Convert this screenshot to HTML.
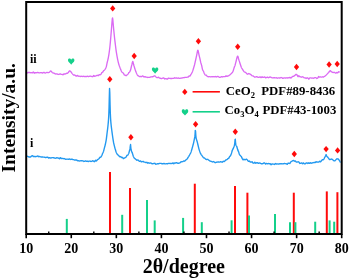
<!DOCTYPE html>
<html><head><meta charset="utf-8"><style>
html,body{margin:0;padding:0;background:#fff;width:350px;height:278px;overflow:hidden}
svg{display:block}
text{font-family:"Liberation Serif","Times New Roman",serif;font-weight:bold;fill:#000}
.t{font-size:14px}
.lg{font-size:12.8px}
.lab{font-size:12px}
.ax{font-size:20px}
</style></head><body>
<svg width="350" height="278" viewBox="0 0 350 278"><line x1="110" y1="234.0" x2="110" y2="171.9" stroke="#ff0a0a" stroke-width="2"/><line x1="130" y1="234.0" x2="130" y2="187.9" stroke="#ff0a0a" stroke-width="2"/><line x1="194.8" y1="234.0" x2="194.8" y2="183.7" stroke="#ff0a0a" stroke-width="2"/><line x1="235.0" y1="234.0" x2="235.0" y2="186.1" stroke="#ff0a0a" stroke-width="2"/><line x1="247.4" y1="234.0" x2="247.4" y2="192.7" stroke="#ff0a0a" stroke-width="2"/><line x1="293.8" y1="234.0" x2="293.8" y2="192.7" stroke="#ff0a0a" stroke-width="2"/><line x1="326.8" y1="234.0" x2="326.8" y2="191.4" stroke="#ff0a0a" stroke-width="2"/><line x1="337.4" y1="234.0" x2="337.4" y2="192.2" stroke="#ff0a0a" stroke-width="2"/><line x1="66.8" y1="234.0" x2="66.8" y2="218.9" stroke="#14d08a" stroke-width="2"/><line x1="122.2" y1="234.0" x2="122.2" y2="214.8" stroke="#14d08a" stroke-width="2"/><line x1="147.0" y1="234.0" x2="147.0" y2="200.1" stroke="#14d08a" stroke-width="2"/><line x1="154.7" y1="234.0" x2="154.7" y2="220.4" stroke="#14d08a" stroke-width="2"/><line x1="183.1" y1="234.0" x2="183.1" y2="217.9" stroke="#14d08a" stroke-width="2"/><line x1="201.8" y1="234.0" x2="201.8" y2="222.2" stroke="#14d08a" stroke-width="2"/><line x1="231.6" y1="234.0" x2="231.6" y2="220.3" stroke="#14d08a" stroke-width="2"/><line x1="249.0" y1="234.0" x2="249.0" y2="215.4" stroke="#14d08a" stroke-width="2"/><line x1="275.0" y1="234.0" x2="275.0" y2="214.1" stroke="#14d08a" stroke-width="2"/><line x1="290.0" y1="234.0" x2="290.0" y2="222.2" stroke="#14d08a" stroke-width="2"/><line x1="295.4" y1="234.0" x2="295.4" y2="222.2" stroke="#14d08a" stroke-width="2"/><line x1="315.2" y1="234.0" x2="315.2" y2="221.7" stroke="#14d08a" stroke-width="2"/><line x1="329.6" y1="234.0" x2="329.6" y2="220.4" stroke="#14d08a" stroke-width="2"/><line x1="334.2" y1="234.0" x2="334.2" y2="221.7" stroke="#14d08a" stroke-width="2"/><path d="M26.30,73.08 L26.55,73.07 L26.80,73.06 L27.05,73.05 L27.30,72.91 L27.55,72.73 L27.80,72.56 L28.05,72.43 L28.30,72.45 L28.55,72.47 L28.80,72.49 L29.05,72.49 L29.30,72.46 L29.55,72.44 L29.80,72.42 L30.05,72.53 L30.30,72.64 L30.55,72.75 L30.80,72.79 L31.05,72.73 L31.30,72.67 L31.55,72.60 L31.80,72.66 L32.05,72.74 L32.30,72.82 L32.55,72.83 L32.80,72.57 L33.05,72.31 L33.30,72.05 L33.55,72.15 L33.80,72.50 L34.05,72.84 L34.30,73.18 L34.55,73.01 L34.80,72.85 L35.05,72.68 L35.30,72.61 L35.55,72.69 L35.80,72.77 L36.05,72.84 L36.30,72.79 L36.55,72.71 L36.80,72.63 L37.05,72.56 L37.30,72.53 L37.55,72.51 L37.80,72.48 L38.05,72.52 L38.30,72.61 L38.55,72.69 L38.80,72.77 L39.05,72.81 L39.30,72.84 L39.55,72.88 L39.80,72.86 L40.05,72.76 L40.30,72.68 L40.55,72.59 L40.80,72.60 L41.05,72.62 L41.30,72.65 L41.55,72.69 L41.80,72.79 L42.05,72.90 L42.30,73.00 L42.55,72.96 L42.80,72.82 L43.05,72.68 L43.30,72.55 L43.55,72.50 L43.80,72.45 L44.05,72.40 L44.30,72.46 L44.55,72.66 L44.80,72.87 L45.05,73.07 L45.30,73.03 L45.55,72.94 L45.80,72.84 L46.05,72.73 L46.30,72.61 L46.55,72.49 L46.80,72.36 L47.05,72.37 L47.30,72.47 L47.55,72.57 L47.80,72.65 L48.05,72.66 L48.30,72.65 L48.55,72.63 L48.80,72.54 L49.05,72.38 L49.30,72.19 L49.55,71.96 L49.80,71.75 L50.05,71.51 L50.30,71.25 L50.55,71.04 L50.80,71.03 L51.05,71.12 L51.30,71.33 L51.55,71.62 L51.80,71.94 L52.05,72.30 L52.30,72.64 L52.55,72.76 L52.80,72.85 L53.05,72.91 L53.30,72.97 L53.55,73.04 L53.80,73.09 L54.05,73.13 L54.30,73.29 L54.55,73.47 L54.80,73.64 L55.05,73.79 L55.30,73.88 L55.55,73.95 L55.80,74.03 L56.05,74.02 L56.30,73.95 L56.55,73.88 L56.80,73.81 L57.05,73.92 L57.30,74.03 L57.55,74.14 L57.80,74.24 L58.05,74.31 L58.30,74.38 L58.55,74.45 L58.80,74.38 L59.05,74.27 L59.30,74.17 L59.55,74.07 L59.80,74.03 L60.05,73.98 L60.30,73.93 L60.55,74.00 L60.80,74.14 L61.05,74.27 L61.30,74.41 L61.55,74.42 L61.80,74.42 L62.05,74.43 L62.30,74.47 L62.55,74.56 L62.80,74.65 L63.05,74.74 L63.30,74.57 L63.55,74.33 L63.80,74.09 L64.05,73.90 L64.30,73.95 L64.55,73.99 L64.80,74.02 L65.05,74.01 L65.30,73.95 L65.55,73.88 L65.80,73.80 L66.05,73.63 L66.30,73.46 L66.55,73.26 L66.80,73.16 L67.05,73.20 L67.30,73.22 L67.55,73.21 L67.80,73.05 L68.05,72.84 L68.30,72.59 L68.55,72.29 L68.80,71.85 L69.05,71.41 L69.30,70.99 L69.55,70.83 L69.80,70.88 L70.05,71.05 L70.30,71.33 L70.55,71.45 L70.80,71.66 L71.05,71.94 L71.30,72.27 L71.55,72.64 L71.80,72.99 L72.05,73.33 L72.30,73.63 L72.55,73.91 L72.80,74.16 L73.05,74.39 L73.30,74.67 L73.55,74.92 L73.80,75.15 L74.05,75.19 L74.30,75.10 L74.55,75.00 L74.80,74.89 L75.05,75.19 L75.30,75.47 L75.55,75.74 L75.80,75.92 L76.05,75.98 L76.30,76.03 L76.55,76.08 L76.80,75.94 L77.05,75.74 L77.30,75.54 L77.55,75.43 L77.80,75.68 L78.05,75.92 L78.30,76.16 L78.55,76.24 L78.80,76.20 L79.05,76.17 L79.30,76.13 L79.55,76.25 L79.80,76.38 L80.05,76.50 L80.30,76.53 L80.55,76.42 L80.80,76.32 L81.05,76.21 L81.30,76.24 L81.55,76.29 L81.80,76.35 L82.05,76.40 L82.30,76.45 L82.55,76.49 L82.80,76.54 L83.05,76.49 L83.30,76.38 L83.55,76.26 L83.80,76.15 L84.05,76.30 L84.30,76.46 L84.55,76.61 L84.80,76.68 L85.05,76.61 L85.30,76.55 L85.55,76.47 L85.80,76.48 L86.05,76.53 L86.30,76.57 L86.55,76.58 L86.80,76.46 L87.05,76.34 L87.30,76.21 L87.55,76.25 L87.80,76.39 L88.05,76.53 L88.30,76.67 L88.55,76.59 L88.80,76.52 L89.05,76.45 L89.30,76.36 L89.55,76.26 L89.80,76.15 L90.05,76.05 L90.30,76.10 L90.55,76.18 L90.80,76.26 L91.05,76.34 L91.30,76.40 L91.55,76.46 L91.80,76.52 L92.05,76.57 L92.30,76.61 L92.55,76.66 L92.80,76.70 L93.05,76.35 L93.30,76.00 L93.55,75.65 L93.80,75.53 L94.05,75.76 L94.30,75.99 L94.55,76.21 L94.80,76.21 L95.05,76.14 L95.30,76.07 L95.55,76.00 L95.80,75.91 L96.05,75.82 L96.30,75.73 L96.55,75.61 L96.80,75.48 L97.05,75.34 L97.30,75.20 L97.55,75.38 L97.80,75.55 L98.05,75.71 L98.30,75.69 L98.55,75.37 L98.80,75.04 L99.05,74.71 L99.30,74.68 L99.55,74.71 L99.80,74.74 L100.05,74.75 L100.30,74.65 L100.55,74.55 L100.80,74.44 L101.05,74.11 L101.30,73.62 L101.55,73.12 L101.80,72.61 L102.05,72.51 L102.30,72.40 L102.55,72.27 L102.80,72.04 L103.05,71.65 L103.30,71.25 L103.55,70.83 L103.80,70.59 L104.05,70.38 L104.30,70.15 L104.55,69.89 L104.80,69.57 L105.05,69.23 L105.30,68.85 L105.55,68.39 L105.80,67.86 L106.05,67.28 L106.30,66.65 L106.55,65.53 L106.80,64.35 L107.05,63.11 L107.30,61.99 L107.55,61.09 L107.80,60.09 L108.05,59.00 L108.30,57.80 L108.55,56.48 L108.80,55.03 L109.05,53.43 L109.30,51.65 L109.55,49.71 L109.80,47.61 L110.05,45.23 L110.30,42.62 L110.55,39.86 L110.80,37.00 L111.05,34.03 L111.30,30.99 L111.55,27.85 L111.80,24.67 L112.05,21.48 L112.30,18.71 L112.55,17.82 L112.80,19.43 L113.05,22.24 L113.30,25.13 L113.55,27.86 L113.80,30.48 L114.05,33.02 L114.30,35.48 L114.55,37.83 L114.80,40.07 L115.05,42.19 L115.30,44.20 L115.55,46.26 L115.80,48.22 L116.05,50.10 L116.30,51.84 L116.55,53.43 L116.80,54.95 L117.05,56.39 L117.30,57.74 L117.55,59.00 L117.80,60.19 L118.05,61.31 L118.30,62.37 L118.55,63.37 L118.80,64.29 L119.05,65.09 L119.30,65.79 L119.55,66.43 L119.80,67.02 L120.05,67.75 L120.30,68.43 L120.55,69.06 L120.80,69.70 L121.05,70.35 L121.30,70.98 L121.55,71.57 L121.80,71.89 L122.05,72.12 L122.30,72.33 L122.55,72.53 L122.80,72.71 L123.05,72.88 L123.30,73.03 L123.55,73.40 L123.80,73.92 L124.05,74.43 L124.30,74.92 L124.55,75.02 L124.80,75.05 L125.05,75.06 L125.30,75.15 L125.55,75.37 L125.80,75.57 L126.05,75.75 L126.30,75.61 L126.55,75.39 L126.80,75.13 L127.05,74.87 L127.30,74.71 L127.55,74.50 L127.80,74.26 L128.05,73.95 L128.30,73.57 L128.55,73.14 L128.80,72.66 L129.05,72.51 L129.30,72.30 L129.55,72.05 L129.80,71.69 L130.05,71.19 L130.30,70.66 L130.55,70.09 L130.80,69.12 L131.05,68.02 L131.30,66.89 L131.55,65.78 L131.80,64.89 L132.05,63.88 L132.30,62.77 L132.55,61.82 L132.80,61.50 L133.05,62.10 L133.30,63.29 L133.55,64.30 L133.80,65.21 L134.05,66.02 L134.30,66.83 L134.55,67.71 L134.80,68.56 L135.05,69.37 L135.30,70.11 L135.55,70.80 L135.80,71.45 L136.05,72.08 L136.30,72.70 L136.55,73.28 L136.80,73.82 L137.05,74.32 L137.30,74.79 L137.55,75.22 L137.80,75.60 L138.05,75.75 L138.30,75.86 L138.55,75.93 L138.80,76.06 L139.05,76.28 L139.30,76.48 L139.55,76.66 L139.80,76.64 L140.05,76.57 L140.30,76.48 L140.55,76.43 L140.80,76.54 L141.05,76.64 L141.30,76.73 L141.55,76.63 L141.80,76.40 L142.05,76.16 L142.30,75.92 L142.55,75.99 L142.80,76.07 L143.05,76.14 L143.30,76.27 L143.55,76.49 L143.80,76.74 L144.05,76.99 L144.30,76.94 L144.55,76.83 L144.80,76.71 L145.05,76.64 L145.30,76.78 L145.55,76.91 L145.80,77.05 L146.05,77.11 L146.30,77.12 L146.55,77.13 L146.80,77.15 L147.05,77.24 L147.30,77.33 L147.55,77.42 L147.80,77.46 L148.05,77.42 L148.30,77.38 L148.55,77.34 L148.80,77.36 L149.05,77.39 L149.30,77.42 L149.55,77.42 L149.80,77.31 L150.05,77.20 L150.30,77.09 L150.55,77.01 L150.80,76.95 L151.05,76.89 L151.30,76.82 L151.55,76.81 L151.80,76.79 L152.05,76.76 L152.30,76.74 L152.55,76.74 L152.80,76.72 L153.05,76.69 L153.30,76.55 L153.55,76.37 L153.80,76.16 L154.05,75.95 L154.30,75.85 L154.55,75.81 L154.80,75.89 L155.05,76.07 L155.30,76.33 L155.55,76.61 L155.80,76.86 L156.05,77.08 L156.30,77.27 L156.55,77.42 L156.80,77.52 L157.05,77.55 L157.30,77.57 L157.55,77.58 L157.80,77.50 L158.05,77.39 L158.30,77.28 L158.55,77.23 L158.80,77.46 L159.05,77.69 L159.30,77.91 L159.55,78.04 L159.80,78.10 L160.05,78.17 L160.30,78.23 L160.55,78.35 L160.80,78.46 L161.05,78.55 L161.30,78.59 L161.55,78.54 L161.80,78.50 L162.05,78.45 L162.30,78.35 L162.55,78.23 L162.80,78.11 L163.05,78.02 L163.30,78.01 L163.55,78.01 L163.80,78.00 L164.05,78.17 L164.30,78.44 L164.55,78.72 L164.80,78.99 L165.05,78.87 L165.30,78.75 L165.55,78.62 L165.80,78.59 L166.05,78.70 L166.30,78.81 L166.55,78.92 L166.80,78.97 L167.05,79.00 L167.30,79.03 L167.55,79.00 L167.80,78.70 L168.05,78.41 L168.30,78.11 L168.55,78.07 L168.80,78.19 L169.05,78.31 L169.30,78.43 L169.55,78.44 L169.80,78.44 L170.05,78.45 L170.30,78.46 L170.55,78.47 L170.80,78.48 L171.05,78.49 L171.30,78.49 L171.55,78.48 L171.80,78.48 L172.05,78.47 L172.30,78.44 L172.55,78.40 L172.80,78.36 L173.05,78.35 L173.30,78.34 L173.55,78.34 L173.80,78.33 L174.05,78.16 L174.30,77.99 L174.55,77.82 L174.80,77.77 L175.05,77.90 L175.30,78.03 L175.55,78.16 L175.80,78.14 L176.05,78.07 L176.30,78.01 L176.55,77.98 L176.80,78.06 L177.05,78.14 L177.30,78.22 L177.55,78.22 L177.80,78.15 L178.05,78.08 L178.30,78.01 L178.55,78.10 L178.80,78.19 L179.05,78.28 L179.30,78.33 L179.55,78.34 L179.80,78.34 L180.05,78.34 L180.30,78.28 L180.55,78.21 L180.80,78.14 L181.05,78.08 L181.30,78.06 L181.55,78.04 L181.80,78.01 L182.05,77.98 L182.30,77.93 L182.55,77.88 L182.80,77.84 L183.05,77.76 L183.30,77.68 L183.55,77.60 L183.80,77.55 L184.05,77.55 L184.30,77.54 L184.55,77.54 L184.80,77.49 L185.05,77.42 L185.30,77.35 L185.55,77.30 L185.80,77.35 L186.05,77.40 L186.30,77.44 L186.55,77.41 L186.80,77.32 L187.05,77.23 L187.30,77.13 L187.55,77.12 L187.80,77.11 L188.05,77.08 L188.30,76.95 L188.55,76.65 L188.80,76.34 L189.05,76.02 L189.30,76.01 L189.55,76.06 L189.80,76.09 L190.05,76.01 L190.30,75.59 L190.55,75.15 L190.80,74.67 L191.05,74.25 L191.30,73.85 L191.55,73.42 L191.80,72.93 L192.05,72.45 L192.30,71.92 L192.55,71.33 L192.80,70.66 L193.05,69.89 L193.30,69.06 L193.55,68.19 L193.80,67.38 L194.05,66.55 L194.30,65.68 L194.55,64.75 L194.80,63.66 L195.05,62.56 L195.30,61.44 L195.55,60.33 L195.80,59.23 L196.05,58.11 L196.30,56.95 L196.55,55.82 L196.80,54.60 L197.05,53.26 L197.30,51.93 L197.55,50.82 L197.80,50.22 L198.05,50.53 L198.30,51.41 L198.55,52.64 L198.80,53.92 L199.05,55.11 L199.30,56.20 L199.55,57.21 L199.80,58.17 L200.05,59.24 L200.30,60.40 L200.55,61.54 L200.80,62.67 L201.05,63.52 L201.30,64.34 L201.55,65.15 L201.80,66.11 L202.05,67.34 L202.30,68.53 L202.55,69.68 L202.80,70.24 L203.05,70.62 L203.30,70.95 L203.55,71.34 L203.80,72.10 L204.05,72.81 L204.30,73.47 L204.55,73.97 L204.80,74.35 L205.05,74.69 L205.30,74.99 L205.55,75.05 L205.80,75.08 L206.05,75.08 L206.30,75.20 L206.55,75.53 L206.80,75.83 L207.05,76.12 L207.30,76.31 L207.55,76.47 L207.80,76.61 L208.05,76.72 L208.30,76.72 L208.55,76.72 L208.80,76.70 L209.05,76.69 L209.30,76.69 L209.55,76.69 L209.80,76.68 L210.05,76.76 L210.30,76.84 L210.55,76.91 L210.80,76.92 L211.05,76.85 L211.30,76.77 L211.55,76.69 L211.80,76.69 L212.05,76.70 L212.30,76.72 L212.55,76.72 L212.80,76.67 L213.05,76.64 L213.30,76.61 L213.55,76.65 L213.80,76.74 L214.05,76.83 L214.30,76.91 L214.55,76.77 L214.80,76.62 L215.05,76.47 L215.30,76.46 L215.55,76.64 L215.80,76.82 L216.05,77.00 L216.30,76.94 L216.55,76.81 L216.80,76.69 L217.05,76.58 L217.30,76.53 L217.55,76.47 L217.80,76.42 L218.05,76.48 L218.30,76.63 L218.55,76.78 L218.80,76.93 L219.05,77.06 L219.30,77.20 L219.55,77.33 L219.80,77.38 L220.05,77.30 L220.30,77.23 L220.55,77.15 L220.80,77.02 L221.05,76.87 L221.30,76.72 L221.55,76.62 L221.80,76.74 L222.05,76.85 L222.30,76.97 L222.55,76.94 L222.80,76.82 L223.05,76.69 L223.30,76.57 L223.55,76.59 L223.80,76.61 L224.05,76.64 L224.30,76.65 L224.55,76.66 L224.80,76.66 L225.05,76.67 L225.30,76.46 L225.55,76.20 L225.80,75.94 L226.05,75.77 L226.30,75.99 L226.55,76.21 L226.80,76.43 L227.05,76.41 L227.30,76.25 L227.55,76.08 L227.80,75.90 L228.05,75.87 L228.30,75.83 L228.55,75.78 L228.80,75.67 L229.05,75.49 L229.30,75.28 L229.55,75.07 L229.80,74.89 L230.05,74.70 L230.30,74.49 L230.55,74.27 L230.80,74.06 L231.05,73.83 L231.30,73.56 L231.55,73.33 L231.80,73.11 L232.05,72.85 L232.30,72.55 L232.55,72.12 L232.80,71.66 L233.05,71.15 L233.30,70.51 L233.55,69.68 L233.80,68.82 L234.05,67.94 L234.30,67.26 L234.55,66.61 L234.80,65.95 L235.05,65.24 L235.30,64.31 L235.55,63.39 L235.80,62.45 L236.05,61.47 L236.30,60.45 L236.55,59.38 L236.80,58.23 L237.05,57.39 L237.30,56.60 L237.55,56.10 L237.80,56.15 L238.05,56.74 L238.30,57.69 L238.55,58.73 L238.80,59.62 L239.05,60.41 L239.30,61.14 L239.55,61.87 L239.80,62.69 L240.05,63.51 L240.30,64.31 L240.55,65.08 L240.80,65.81 L241.05,66.52 L241.30,67.22 L241.55,67.71 L241.80,68.17 L242.05,68.59 L242.30,69.00 L242.55,69.42 L242.80,69.79 L243.05,70.11 L243.30,70.54 L243.55,70.96 L243.80,71.33 L244.05,71.64 L244.30,71.82 L244.55,71.97 L244.80,72.11 L245.05,72.23 L245.30,72.34 L245.55,72.46 L245.80,72.59 L246.05,72.87 L246.30,73.15 L246.55,73.43 L246.80,73.68 L247.05,73.87 L247.30,74.05 L247.55,74.20 L247.80,74.10 L248.05,73.91 L248.30,73.70 L248.55,73.53 L248.80,73.61 L249.05,73.69 L249.30,73.78 L249.55,73.86 L249.80,73.95 L250.05,74.09 L250.30,74.27 L250.55,74.45 L250.80,74.64 L251.05,74.85 L251.30,75.07 L251.55,75.32 L251.80,75.55 L252.05,75.76 L252.30,75.81 L252.55,75.81 L252.80,75.80 L253.05,75.82 L253.30,76.04 L253.55,76.24 L253.80,76.44 L254.05,76.63 L254.30,76.83 L254.55,77.02 L254.80,77.20 L255.05,77.13 L255.30,77.05 L255.55,76.97 L255.80,76.88 L256.05,76.77 L256.30,76.66 L256.55,76.56 L256.80,76.66 L257.05,76.81 L257.30,76.96 L257.55,77.10 L257.80,77.19 L258.05,77.28 L258.30,77.37 L258.55,77.37 L258.80,77.30 L259.05,77.23 L259.30,77.16 L259.55,77.09 L259.80,77.01 L260.05,76.94 L260.30,76.98 L260.55,77.21 L260.80,77.44 L261.05,77.66 L261.30,77.49 L261.55,77.23 L261.80,76.96 L262.05,76.79 L262.30,76.98 L262.55,77.16 L262.80,77.35 L263.05,77.40 L263.30,77.36 L263.55,77.32 L263.80,77.28 L264.05,77.17 L264.30,77.07 L264.55,76.96 L264.80,77.00 L265.05,77.26 L265.30,77.51 L265.55,77.77 L265.80,77.76 L266.05,77.68 L266.30,77.61 L266.55,77.52 L266.80,77.38 L267.05,77.24 L267.30,77.10 L267.55,77.15 L267.80,77.34 L268.05,77.53 L268.30,77.72 L268.55,77.62 L268.80,77.53 L269.05,77.44 L269.30,77.33 L269.55,77.19 L269.80,77.05 L270.05,76.91 L270.30,76.99 L270.55,77.12 L270.80,77.25 L271.05,77.38 L271.30,77.48 L271.55,77.59 L271.80,77.69 L272.05,77.76 L272.30,77.81 L272.55,77.85 L272.80,77.90 L273.05,77.86 L273.30,77.82 L273.55,77.78 L273.80,77.76 L274.05,77.75 L274.30,77.75 L274.55,77.74 L274.80,77.78 L275.05,77.83 L275.30,77.88 L275.55,77.91 L275.80,77.85 L276.05,77.79 L276.30,77.73 L276.55,77.79 L276.80,77.94 L277.05,78.08 L277.30,78.23 L277.55,78.13 L277.80,78.03 L278.05,77.94 L278.30,77.89 L278.55,77.91 L278.80,77.93 L279.05,77.95 L279.30,77.98 L279.55,78.01 L279.80,78.04 L280.05,78.03 L280.30,77.87 L280.55,77.72 L280.80,77.56 L281.05,77.53 L281.30,77.56 L281.55,77.60 L281.80,77.64 L282.05,77.87 L282.30,78.10 L282.55,78.33 L282.80,78.42 L283.05,78.31 L283.30,78.20 L283.55,78.08 L283.80,78.02 L284.05,77.96 L284.30,77.90 L284.55,77.87 L284.80,77.93 L285.05,78.00 L285.30,78.06 L285.55,78.04 L285.80,77.96 L286.05,77.88 L286.30,77.79 L286.55,77.87 L286.80,77.94 L287.05,78.01 L287.30,78.02 L287.55,77.92 L287.80,77.81 L288.05,77.71 L288.30,77.76 L288.55,77.84 L288.80,77.92 L289.05,77.94 L289.30,77.73 L289.55,77.52 L289.80,77.31 L290.05,77.38 L290.30,77.64 L290.55,77.89 L290.80,78.14 L291.05,77.91 L291.30,77.65 L291.55,77.38 L291.80,77.13 L292.05,76.93 L292.30,76.71 L292.55,76.48 L292.80,76.44 L293.05,76.43 L293.30,76.41 L293.55,76.35 L293.80,76.16 L294.05,75.95 L294.30,75.74 L294.55,75.56 L294.80,75.40 L295.05,75.26 L295.30,75.13 L295.55,74.84 L295.80,74.58 L296.05,74.37 L296.30,74.32 L296.55,74.48 L296.80,74.70 L297.05,74.96 L297.30,75.38 L297.55,75.87 L297.80,76.36 L298.05,76.71 L298.30,76.40 L298.55,76.08 L298.80,75.76 L299.05,75.82 L299.30,76.12 L299.55,76.42 L299.80,76.70 L300.05,76.74 L300.30,76.77 L300.55,76.80 L300.80,76.86 L301.05,76.97 L301.30,77.09 L301.55,77.21 L301.80,77.13 L302.05,76.99 L302.30,76.85 L302.55,76.76 L302.80,76.88 L303.05,77.00 L303.30,77.11 L303.55,77.28 L303.80,77.48 L304.05,77.68 L304.30,77.87 L304.55,77.86 L304.80,77.84 L305.05,77.82 L305.30,77.89 L305.55,78.08 L305.80,78.27 L306.05,78.47 L306.30,78.34 L306.55,78.13 L306.80,77.91 L307.05,77.76 L307.30,77.87 L307.55,77.98 L307.80,78.09 L308.05,78.31 L308.30,78.60 L308.55,78.89 L308.80,79.18 L309.05,78.83 L309.30,78.47 L309.55,78.12 L309.80,77.91 L310.05,77.90 L310.30,77.87 L310.55,77.84 L310.80,77.89 L311.05,77.96 L311.30,78.03 L311.55,78.08 L311.80,78.07 L312.05,78.05 L312.30,78.03 L312.55,78.06 L312.80,78.13 L313.05,78.20 L313.30,78.26 L313.55,78.17 L313.80,78.08 L314.05,77.99 L314.30,77.88 L314.55,77.77 L314.80,77.66 L315.05,77.55 L315.30,77.58 L315.55,77.65 L315.80,77.72 L316.05,77.82 L316.30,78.04 L316.55,78.25 L316.80,78.47 L317.05,78.45 L317.30,78.28 L317.55,78.12 L317.80,77.95 L318.05,77.51 L318.30,77.07 L318.55,76.63 L318.80,76.45 L319.05,76.68 L319.30,76.90 L319.55,77.12 L319.80,77.08 L320.05,76.98 L320.30,76.87 L320.55,76.81 L320.80,76.93 L321.05,77.04 L321.30,77.15 L321.55,77.12 L321.80,76.99 L322.05,76.86 L322.30,76.72 L322.55,76.88 L322.80,77.02 L323.05,77.16 L323.30,77.17 L323.55,76.99 L323.80,76.80 L324.05,76.61 L324.30,76.48 L324.55,76.36 L324.80,76.23 L325.05,76.08 L325.30,75.86 L325.55,75.62 L325.80,75.37 L326.05,75.13 L326.30,74.90 L326.55,74.65 L326.80,74.37 L327.05,74.14 L327.30,73.89 L327.55,73.62 L327.80,73.35 L328.05,73.11 L328.30,72.86 L328.55,72.62 L328.80,72.25 L329.05,71.87 L329.30,71.53 L329.55,71.23 L329.80,70.98 L330.05,70.80 L330.30,70.69 L330.55,70.80 L330.80,71.08 L331.05,71.40 L331.30,71.75 L331.55,71.86 L331.80,71.97 L332.05,72.07 L332.30,72.19 L332.55,72.33 L332.80,72.43 L333.05,72.49 L333.30,72.48 L333.55,72.42 L333.80,72.35 L334.05,72.30 L334.30,72.35 L334.55,72.44 L334.80,72.58 L335.05,72.74 L335.30,72.90 L335.55,73.05 L335.80,73.16 L336.05,73.02 L336.30,72.82 L336.55,72.56 L336.80,72.47 L337.05,72.67 L337.30,72.82 L337.55,72.92 L337.80,72.66 L338.05,72.32 L338.30,72.03 L338.55,71.84 L338.80,71.76 L339.05,71.83 L339.30,72.04 L339.55,72.47" fill="none" stroke="#db6af3" stroke-width="1.35" stroke-linejoin="round"/><path d="M26.30,155.60 L26.55,155.82 L26.80,156.05 L27.05,156.27 L27.30,156.38 L27.55,156.45 L27.80,156.53 L28.05,156.61 L28.30,156.72 L28.55,156.83 L28.80,156.94 L29.05,156.99 L29.30,157.02 L29.55,157.04 L29.80,157.06 L30.05,157.02 L30.30,156.98 L30.55,156.94 L30.80,156.81 L31.05,156.55 L31.30,156.29 L31.55,156.04 L31.80,155.90 L32.05,155.80 L32.30,155.69 L32.55,155.67 L32.80,155.94 L33.05,156.22 L33.30,156.50 L33.55,156.57 L33.80,156.52 L34.05,156.47 L34.30,156.41 L34.55,156.50 L34.80,156.60 L35.05,156.69 L35.30,156.70 L35.55,156.60 L35.80,156.49 L36.05,156.38 L36.30,156.38 L36.55,156.42 L36.80,156.45 L37.05,156.44 L37.30,156.27 L37.55,156.12 L37.80,155.97 L38.05,156.05 L38.30,156.27 L38.55,156.49 L38.80,156.71 L39.05,156.65 L39.30,156.58 L39.55,156.52 L39.80,156.52 L40.05,156.63 L40.30,156.74 L40.55,156.84 L40.80,156.89 L41.05,156.93 L41.30,156.97 L41.55,156.99 L41.80,156.96 L42.05,156.93 L42.30,156.90 L42.55,156.92 L42.80,156.99 L43.05,157.06 L43.30,157.13 L43.55,157.13 L43.80,157.12 L44.05,157.11 L44.30,157.15 L44.55,157.25 L44.80,157.36 L45.05,157.46 L45.30,157.48 L45.55,157.48 L45.80,157.48 L46.05,157.46 L46.30,157.39 L46.55,157.31 L46.80,157.23 L47.05,157.21 L47.30,157.23 L47.55,157.25 L47.80,157.27 L48.05,157.53 L48.30,157.79 L48.55,158.05 L48.80,158.14 L49.05,157.98 L49.30,157.81 L49.55,157.64 L49.80,157.71 L50.05,157.83 L50.30,157.96 L50.55,158.05 L50.80,158.01 L51.05,157.96 L51.30,157.92 L51.55,157.85 L51.80,157.77 L52.05,157.69 L52.30,157.61 L52.55,157.61 L52.80,157.61 L53.05,157.60 L53.30,157.64 L53.55,157.74 L53.80,157.85 L54.05,157.95 L54.30,157.99 L54.55,158.02 L54.80,158.05 L55.05,158.08 L55.30,158.14 L55.55,158.19 L55.80,158.24 L56.05,158.15 L56.30,157.98 L56.55,157.81 L56.80,157.64 L57.05,157.72 L57.30,157.80 L57.55,157.88 L57.80,157.96 L58.05,158.02 L58.30,158.09 L58.55,158.15 L58.80,158.31 L59.05,158.50 L59.30,158.68 L59.55,158.75 L59.80,158.37 L60.05,157.99 L60.30,157.61 L60.55,157.64 L60.80,157.95 L61.05,158.25 L61.30,158.56 L61.55,158.49 L61.80,158.41 L62.05,158.34 L62.30,158.35 L62.55,158.47 L62.80,158.59 L63.05,158.71 L63.30,158.68 L63.55,158.62 L63.80,158.55 L64.05,158.52 L64.30,158.63 L64.55,158.74 L64.80,158.85 L65.05,158.98 L65.30,159.12 L65.55,159.27 L65.80,159.41 L66.05,159.31 L66.30,159.22 L66.55,159.12 L66.80,159.08 L67.05,159.11 L67.30,159.14 L67.55,159.17 L67.80,159.19 L68.05,159.21 L68.30,159.23 L68.55,159.22 L68.80,159.13 L69.05,159.05 L69.30,158.96 L69.55,159.01 L69.80,159.16 L70.05,159.32 L70.30,159.47 L70.55,159.42 L70.80,159.36 L71.05,159.31 L71.30,159.27 L71.55,159.23 L71.80,159.20 L72.05,159.17 L72.30,159.26 L72.55,159.38 L72.80,159.50 L73.05,159.59 L73.30,159.61 L73.55,159.63 L73.80,159.65 L74.05,159.74 L74.30,159.88 L74.55,160.01 L74.80,160.15 L75.05,160.11 L75.30,160.06 L75.55,160.02 L75.80,159.99 L76.05,159.98 L76.30,159.97 L76.55,159.95 L76.80,160.14 L77.05,160.37 L77.30,160.61 L77.55,160.79 L77.80,160.78 L78.05,160.77 L78.30,160.76 L78.55,160.79 L78.80,160.85 L79.05,160.92 L79.30,160.98 L79.55,160.95 L79.80,160.91 L80.05,160.88 L80.30,160.85 L80.55,160.81 L80.80,160.77 L81.05,160.73 L81.30,160.72 L81.55,160.72 L81.80,160.72 L82.05,160.73 L82.30,160.77 L82.55,160.82 L82.80,160.86 L83.05,160.97 L83.30,161.12 L83.55,161.28 L83.80,161.44 L84.05,161.39 L84.30,161.34 L84.55,161.29 L84.80,161.21 L85.05,161.09 L85.30,160.96 L85.55,160.83 L85.80,160.94 L86.05,161.12 L86.30,161.29 L86.55,161.41 L86.80,161.30 L87.05,161.19 L87.30,161.08 L87.55,161.14 L87.80,161.32 L88.05,161.50 L88.30,161.65 L88.55,161.51 L88.80,161.36 L89.05,161.21 L89.30,161.12 L89.55,161.10 L89.80,161.08 L90.05,161.06 L90.30,161.15 L90.55,161.27 L90.80,161.39 L91.05,161.47 L91.30,161.43 L91.55,161.38 L91.80,161.34 L92.05,161.21 L92.30,161.02 L92.55,160.83 L92.80,160.63 L93.05,160.84 L93.30,161.04 L93.55,161.24 L93.80,161.40 L94.05,161.49 L94.30,161.58 L94.55,161.67 L94.80,161.35 L95.05,160.92 L95.30,160.49 L95.55,160.20 L95.80,160.45 L96.05,160.70 L96.30,160.95 L96.55,160.84 L96.80,160.49 L97.05,160.12 L97.30,159.72 L97.55,159.58 L97.80,159.44 L98.05,159.28 L98.30,159.13 L98.55,158.97 L98.80,158.80 L99.05,158.62 L99.30,158.30 L99.55,157.93 L99.80,157.55 L100.05,157.24 L100.30,157.22 L100.55,157.20 L100.80,157.15 L101.05,156.86 L101.30,156.42 L101.55,155.94 L101.80,155.44 L102.05,154.87 L102.30,154.26 L102.55,153.62 L102.80,153.00 L103.05,152.45 L103.30,151.86 L103.55,151.21 L103.80,150.37 L104.05,149.44 L104.30,148.44 L104.55,147.43 L104.80,146.53 L105.05,145.55 L105.30,144.49 L105.55,143.35 L105.80,142.12 L106.05,140.79 L106.30,139.36 L106.55,137.44 L106.80,135.42 L107.05,133.29 L107.30,131.23 L107.55,129.29 L107.80,127.22 L108.05,124.98 L108.30,122.36 L108.55,119.15 L108.80,114.74 L109.05,107.94 L109.30,97.57 L109.55,88.50 L109.80,93.15 L110.05,104.44 L110.30,112.69 L110.55,117.92 L110.80,121.57 L111.05,124.22 L111.30,126.49 L111.55,128.53 L111.80,130.48 L112.05,132.42 L112.30,134.25 L112.55,135.98 L112.80,137.73 L113.05,139.41 L113.30,140.98 L113.55,142.42 L113.80,143.61 L114.05,144.70 L114.30,145.70 L114.55,146.68 L114.80,147.61 L115.05,148.48 L115.30,149.27 L115.55,150.14 L115.80,150.96 L116.05,151.72 L116.30,152.40 L116.55,152.99 L116.80,153.54 L117.05,154.05 L117.30,154.37 L117.55,154.61 L117.80,154.82 L118.05,155.03 L118.30,155.28 L118.55,155.52 L118.80,155.73 L119.05,156.00 L119.30,156.29 L119.55,156.57 L119.80,156.83 L120.05,156.76 L120.30,156.67 L120.55,156.56 L120.80,156.62 L121.05,156.92 L121.30,157.21 L121.55,157.48 L121.80,157.51 L122.05,157.48 L122.30,157.43 L122.55,157.46 L122.80,157.83 L123.05,158.21 L123.30,158.59 L123.55,158.64 L123.80,158.47 L124.05,158.29 L124.30,158.09 L124.55,157.99 L124.80,157.87 L125.05,157.73 L125.30,157.58 L125.55,157.43 L125.80,157.24 L126.05,157.04 L126.30,156.64 L126.55,156.17 L126.80,155.67 L127.05,155.24 L127.30,155.21 L127.55,155.13 L127.80,155.01 L128.05,154.70 L128.30,154.25 L128.55,153.75 L128.80,153.21 L129.05,152.32 L129.30,151.40 L129.55,150.44 L129.80,149.52 L130.05,148.41 L130.30,146.06 L130.55,144.50 L130.80,147.53 L131.05,149.48 L131.30,150.57 L131.55,151.37 L131.80,151.92 L132.05,152.44 L132.30,152.93 L132.55,153.68 L132.80,154.57 L133.05,155.42 L133.30,156.22 L133.55,156.77 L133.80,157.27 L134.05,157.73 L134.30,158.09 L134.55,158.31 L134.80,158.51 L135.05,158.68 L135.30,158.88 L135.55,159.08 L135.80,159.26 L136.05,159.45 L136.30,159.70 L136.55,159.95 L136.80,160.18 L137.05,160.21 L137.30,160.10 L137.55,159.98 L137.80,159.85 L138.05,160.11 L138.30,160.37 L138.55,160.62 L138.80,160.83 L139.05,161.00 L139.30,161.17 L139.55,161.33 L139.80,161.23 L140.05,161.05 L140.30,160.91 L140.55,160.85 L140.80,161.16 L141.05,161.46 L141.30,161.76 L141.55,161.84 L141.80,161.77 L142.05,161.70 L142.30,161.63 L142.55,161.53 L142.80,161.43 L143.05,161.32 L143.30,161.37 L143.55,161.62 L143.80,161.88 L144.05,162.14 L144.30,162.17 L144.55,162.14 L144.80,162.11 L145.05,162.12 L145.30,162.31 L145.55,162.47 L145.80,162.64 L146.05,162.64 L146.30,162.53 L146.55,162.42 L146.80,162.31 L147.05,162.57 L147.30,162.83 L147.55,163.09 L147.80,163.18 L148.05,163.04 L148.30,162.89 L148.55,162.75 L148.80,162.83 L149.05,162.98 L149.30,163.12 L149.55,163.22 L149.80,163.16 L150.05,163.09 L150.30,163.03 L150.55,163.04 L150.80,163.09 L151.05,163.15 L151.30,163.21 L151.55,163.39 L151.80,163.57 L152.05,163.75 L152.30,163.83 L152.55,163.76 L152.80,163.69 L153.05,163.62 L153.30,163.58 L153.55,163.55 L153.80,163.52 L154.05,163.48 L154.30,163.42 L154.55,163.36 L154.80,163.30 L155.05,163.44 L155.30,163.70 L155.55,163.97 L155.80,164.22 L156.05,164.17 L156.30,164.13 L156.55,164.08 L156.80,164.01 L157.05,163.90 L157.30,163.79 L157.55,163.68 L157.80,163.70 L158.05,163.76 L158.30,163.81 L158.55,163.83 L158.80,163.69 L159.05,163.56 L159.30,163.43 L159.55,163.38 L159.80,163.37 L160.05,163.37 L160.30,163.37 L160.55,163.38 L160.80,163.39 L161.05,163.40 L161.30,163.46 L161.55,163.57 L161.80,163.68 L162.05,163.79 L162.30,163.80 L162.55,163.79 L162.80,163.78 L163.05,163.75 L163.30,163.63 L163.55,163.52 L163.80,163.41 L164.05,163.45 L164.30,163.59 L164.55,163.73 L164.80,163.87 L165.05,163.86 L165.30,163.86 L165.55,163.85 L165.80,163.82 L166.05,163.75 L166.30,163.68 L166.55,163.61 L166.80,163.66 L167.05,163.73 L167.30,163.81 L167.55,163.84 L167.80,163.69 L168.05,163.55 L168.30,163.40 L168.55,163.35 L168.80,163.35 L169.05,163.36 L169.30,163.36 L169.55,163.41 L169.80,163.47 L170.05,163.52 L170.30,163.53 L170.55,163.47 L170.80,163.41 L171.05,163.35 L171.30,163.40 L171.55,163.48 L171.80,163.55 L172.05,163.56 L172.30,163.35 L172.55,163.13 L172.80,162.92 L173.05,162.99 L173.30,163.24 L173.55,163.50 L173.80,163.75 L174.05,163.52 L174.30,163.28 L174.55,163.04 L174.80,162.92 L175.05,162.96 L175.30,163.01 L175.55,163.05 L175.80,162.94 L176.05,162.80 L176.30,162.66 L176.55,162.58 L176.80,162.75 L177.05,162.92 L177.30,163.10 L177.55,163.19 L177.80,163.22 L178.05,163.26 L178.30,163.30 L178.55,163.24 L178.80,163.19 L179.05,163.13 L179.30,163.07 L179.55,163.00 L179.80,162.94 L180.05,162.87 L180.30,162.62 L180.55,162.34 L180.80,162.04 L181.05,161.81 L181.30,161.83 L181.55,161.82 L181.80,161.81 L182.05,161.77 L182.30,161.70 L182.55,161.63 L182.80,161.55 L183.05,161.40 L183.30,161.23 L183.55,161.07 L183.80,160.99 L184.05,161.07 L184.30,161.13 L184.55,161.20 L184.80,161.01 L185.05,160.75 L185.30,160.49 L185.55,160.23 L185.80,160.03 L186.05,159.81 L186.30,159.58 L186.55,159.38 L186.80,159.20 L187.05,159.00 L187.30,158.79 L187.55,158.37 L187.80,157.93 L188.05,157.47 L188.30,157.05 L188.55,156.70 L188.80,156.32 L189.05,155.91 L189.30,155.47 L189.55,155.00 L189.80,154.50 L190.05,153.99 L190.30,153.56 L190.55,153.08 L190.80,152.56 L191.05,151.90 L191.30,151.15 L191.55,150.34 L191.80,149.49 L192.05,148.64 L192.30,147.76 L192.55,146.83 L192.80,145.90 L193.05,144.96 L193.30,144.01 L193.55,143.07 L193.80,141.91 L194.05,140.70 L194.30,139.48 L194.55,138.24 L194.80,136.91 L195.05,134.48 L195.30,130.34 L195.55,131.20 L195.80,135.30 L196.05,137.52 L196.30,138.86 L196.55,139.70 L196.80,140.48 L197.05,141.26 L197.30,142.15 L197.55,143.18 L197.80,144.22 L198.05,145.25 L198.30,146.32 L198.55,147.38 L198.80,148.40 L199.05,149.35 L199.30,150.14 L199.55,150.89 L199.80,151.60 L200.05,152.25 L200.30,152.86 L200.55,153.42 L200.80,153.95 L201.05,154.34 L201.30,154.70 L201.55,155.02 L201.80,155.34 L202.05,155.68 L202.30,156.00 L202.55,156.29 L202.80,156.68 L203.05,157.08 L203.30,157.46 L203.55,157.77 L203.80,157.84 L204.05,157.90 L204.30,157.94 L204.55,158.10 L204.80,158.34 L205.05,158.56 L205.30,158.77 L205.55,159.00 L205.80,159.23 L206.05,159.44 L206.30,159.54 L206.55,159.47 L206.80,159.39 L207.05,159.31 L207.30,159.33 L207.55,159.38 L207.80,159.46 L208.05,159.60 L208.30,159.80 L208.55,159.99 L208.80,160.18 L209.05,160.37 L209.30,160.55 L209.55,160.74 L209.80,160.91 L210.05,161.02 L210.30,161.12 L210.55,161.21 L210.80,161.30 L211.05,161.37 L211.30,161.43 L211.55,161.50 L211.80,161.62 L212.05,161.75 L212.30,161.89 L212.55,161.96 L212.80,161.84 L213.05,161.71 L213.30,161.57 L213.55,161.61 L213.80,161.77 L214.05,161.92 L214.30,162.07 L214.55,162.25 L214.80,162.43 L215.05,162.60 L215.30,162.69 L215.55,162.60 L215.80,162.47 L216.05,162.35 L216.30,162.27 L216.55,162.21 L216.80,162.15 L217.05,162.10 L217.30,162.08 L217.55,162.07 L217.80,162.06 L218.05,162.05 L218.30,162.05 L218.55,162.04 L218.80,162.04 L219.05,162.07 L219.30,162.11 L219.55,162.14 L219.80,162.11 L220.05,161.98 L220.30,161.85 L220.55,161.71 L220.80,161.75 L221.05,161.82 L221.30,161.89 L221.55,161.96 L221.80,162.04 L222.05,162.12 L222.30,162.20 L222.55,162.07 L222.80,161.81 L223.05,161.55 L223.30,161.29 L223.55,161.36 L223.80,161.43 L224.05,161.49 L224.30,161.45 L224.55,161.26 L224.80,161.06 L225.05,160.86 L225.30,160.62 L225.55,160.36 L225.80,160.09 L226.05,159.86 L226.30,159.80 L226.55,159.73 L226.80,159.65 L227.05,159.46 L227.30,159.20 L227.55,158.92 L227.80,158.63 L228.05,158.57 L228.30,158.50 L228.55,158.40 L228.80,158.14 L229.05,157.63 L229.30,157.11 L229.55,156.55 L229.80,156.33 L230.05,156.16 L230.30,155.97 L230.55,155.67 L230.80,155.09 L231.05,154.48 L231.30,153.83 L231.55,153.04 L231.80,152.14 L232.05,151.21 L232.30,150.26 L232.55,149.82 L232.80,149.38 L233.05,148.93 L233.30,148.40 L233.55,147.76 L233.80,147.14 L234.05,146.53 L234.30,145.64 L234.55,144.54 L234.80,142.84 L235.05,139.69 L235.30,139.20 L235.55,142.59 L235.80,144.46 L236.05,145.30 L236.30,145.74 L236.55,146.15 L236.80,146.56 L237.05,147.47 L237.30,148.40 L237.55,149.34 L237.80,150.11 L238.05,150.63 L238.30,151.13 L238.55,151.61 L238.80,152.38 L239.05,153.20 L239.30,153.99 L239.55,154.65 L239.80,154.93 L240.05,155.17 L240.30,155.39 L240.55,155.65 L240.80,155.95 L241.05,156.21 L241.30,156.45 L241.55,157.05 L241.80,157.63 L242.05,158.18 L242.30,158.66 L242.55,159.05 L242.80,159.43 L243.05,159.78 L243.30,159.73 L243.55,159.56 L243.80,159.37 L244.05,159.24 L244.30,159.43 L244.55,159.60 L244.80,159.75 L245.05,159.74 L245.30,159.63 L245.55,159.51 L245.80,159.39 L246.05,159.31 L246.30,159.26 L246.55,159.26 L246.80,159.37 L247.05,159.62 L247.30,159.91 L247.55,160.23 L247.80,160.56 L248.05,160.88 L248.30,161.19 L248.55,161.41 L248.80,161.30 L249.05,161.17 L249.30,161.02 L249.55,161.14 L249.80,161.43 L250.05,161.71 L250.30,161.98 L250.55,162.04 L250.80,162.10 L251.05,162.14 L251.30,162.12 L251.55,162.00 L251.80,161.88 L252.05,161.75 L252.30,162.01 L252.55,162.35 L252.80,162.70 L253.05,162.99 L253.30,163.06 L253.55,163.12 L253.80,163.19 L254.05,163.06 L254.30,162.79 L254.55,162.53 L254.80,162.27 L255.05,162.56 L255.30,162.85 L255.55,163.14 L255.80,163.26 L256.05,163.11 L256.30,162.96 L256.55,162.81 L256.80,162.78 L257.05,162.77 L257.30,162.76 L257.55,162.79 L257.80,162.98 L258.05,163.16 L258.30,163.34 L258.55,163.34 L258.80,163.22 L259.05,163.11 L259.30,163.01 L259.55,163.05 L259.80,163.09 L260.05,163.13 L260.30,163.21 L260.55,163.36 L260.80,163.51 L261.05,163.66 L261.30,163.69 L261.55,163.70 L261.80,163.71 L262.05,163.71 L262.30,163.70 L262.55,163.68 L262.80,163.67 L263.05,163.54 L263.30,163.34 L263.55,163.14 L263.80,162.94 L264.05,162.94 L264.30,162.95 L264.55,162.96 L264.80,163.08 L265.05,163.38 L265.30,163.67 L265.55,163.97 L265.80,163.88 L266.05,163.70 L266.30,163.52 L266.55,163.40 L266.80,163.53 L267.05,163.66 L267.30,163.79 L267.55,163.79 L267.80,163.69 L268.05,163.59 L268.30,163.49 L268.55,163.60 L268.80,163.71 L269.05,163.82 L269.30,163.86 L269.55,163.77 L269.80,163.68 L270.05,163.59 L270.30,163.83 L270.55,164.14 L270.80,164.45 L271.05,164.65 L271.30,164.41 L271.55,164.17 L271.80,163.92 L272.05,163.88 L272.30,163.96 L272.55,164.04 L272.80,164.12 L273.05,164.11 L273.30,164.09 L273.55,164.07 L273.80,164.11 L274.05,164.24 L274.30,164.37 L274.55,164.50 L274.80,164.30 L275.05,164.03 L275.30,163.75 L275.55,163.56 L275.80,163.68 L276.05,163.81 L276.30,163.94 L276.55,163.97 L276.80,163.94 L277.05,163.91 L277.30,163.88 L277.55,163.94 L277.80,164.00 L278.05,164.06 L278.30,164.09 L278.55,164.07 L278.80,164.05 L279.05,164.03 L279.30,163.94 L279.55,163.83 L279.80,163.72 L280.05,163.65 L280.30,163.72 L280.55,163.78 L280.80,163.85 L281.05,163.84 L281.30,163.78 L281.55,163.71 L281.80,163.65 L282.05,163.73 L282.30,163.81 L282.55,163.89 L282.80,163.91 L283.05,163.85 L283.30,163.78 L283.55,163.72 L283.80,163.66 L284.05,163.59 L284.30,163.53 L284.55,163.48 L284.80,163.54 L285.05,163.59 L285.30,163.63 L285.55,163.67 L285.80,163.69 L286.05,163.71 L286.30,163.73 L286.55,163.90 L286.80,164.07 L287.05,164.23 L287.30,164.20 L287.55,163.90 L287.80,163.59 L288.05,163.27 L288.30,163.24 L288.55,163.27 L288.80,163.30 L289.05,163.32 L289.30,163.37 L289.55,163.42 L289.80,163.45 L290.05,163.19 L290.30,162.73 L290.55,162.26 L290.80,161.77 L291.05,161.66 L291.30,161.54 L291.55,161.40 L291.80,161.25 L292.05,161.11 L292.30,160.95 L292.55,160.79 L292.80,160.68 L293.05,160.59 L293.30,160.52 L293.55,160.51 L293.80,160.67 L294.05,160.87 L294.30,161.14 L294.55,161.19 L294.80,161.10 L295.05,161.05 L295.30,161.02 L295.55,161.30 L295.80,161.58 L296.05,161.87 L296.30,162.05 L296.55,162.09 L296.80,162.11 L297.05,162.12 L297.30,162.05 L297.55,161.95 L297.80,161.84 L298.05,161.76 L298.30,161.87 L298.55,161.96 L298.80,162.05 L299.05,162.32 L299.30,162.71 L299.55,163.09 L299.80,163.47 L300.05,163.43 L300.30,163.38 L300.55,163.33 L300.80,163.25 L301.05,163.12 L301.30,163.00 L301.55,162.87 L301.80,163.05 L302.05,163.30 L302.30,163.56 L302.55,163.71 L302.80,163.46 L303.05,163.20 L303.30,162.94 L303.55,163.00 L303.80,163.27 L304.05,163.54 L304.30,163.80 L304.55,163.82 L304.80,163.85 L305.05,163.87 L305.30,163.79 L305.55,163.56 L305.80,163.33 L306.05,163.10 L306.30,163.02 L306.55,162.97 L306.80,162.92 L307.05,162.92 L307.30,163.10 L307.55,163.28 L307.80,163.47 L308.05,163.41 L308.30,163.20 L308.55,162.99 L308.80,162.78 L309.05,162.96 L309.30,163.14 L309.55,163.32 L309.80,163.33 L310.05,163.11 L310.30,162.88 L310.55,162.66 L310.80,162.76 L311.05,162.94 L311.30,163.11 L311.55,163.24 L311.80,163.14 L312.05,163.05 L312.30,162.95 L312.55,162.87 L312.80,162.79 L313.05,162.71 L313.30,162.63 L313.55,162.55 L313.80,162.48 L314.05,162.40 L314.30,162.39 L314.55,162.47 L314.80,162.54 L315.05,162.62 L315.30,162.44 L315.55,162.19 L315.80,161.93 L316.05,161.75 L316.30,161.87 L316.55,161.98 L316.80,162.11 L317.05,162.14 L317.30,162.09 L317.55,162.04 L317.80,161.98 L318.05,162.05 L318.30,162.10 L318.55,162.16 L318.80,162.08 L319.05,161.83 L319.30,161.56 L319.55,161.29 L319.80,161.41 L320.05,161.62 L320.30,161.81 L320.55,161.90 L320.80,161.58 L321.05,161.24 L321.30,160.90 L321.55,160.61 L321.80,160.35 L322.05,160.08 L322.30,159.79 L322.55,159.82 L322.80,159.83 L323.05,159.81 L323.30,159.69 L323.55,159.41 L323.80,159.12 L324.05,158.81 L324.30,158.32 L324.55,157.79 L324.80,157.25 L325.05,156.74 L325.30,156.31 L325.55,155.82 L325.80,155.17 L326.05,154.61 L326.30,154.99 L326.55,155.69 L326.80,156.22 L327.05,156.48 L327.30,156.73 L327.55,156.96 L327.80,157.24 L328.05,157.57 L328.30,157.89 L328.55,158.19 L328.80,158.58 L329.05,158.98 L329.30,159.33 L329.55,159.59 L329.80,159.57 L330.05,159.51 L330.30,159.40 L330.55,159.32 L330.80,159.24 L331.05,159.15 L331.30,159.07 L331.55,159.07 L331.80,159.14 L332.05,159.27 L332.30,159.44 L332.55,159.61 L332.80,159.79 L333.05,159.96 L333.30,160.21 L333.55,160.45 L333.80,160.66 L334.05,160.80 L334.30,160.84 L334.55,160.84 L334.80,160.80 L335.05,160.64 L335.30,160.38 L335.55,160.08 L335.80,159.74 L336.05,159.53 L336.30,159.28 L336.55,159.01 L336.80,158.83 L337.05,158.80 L337.30,158.85 L337.55,159.03 L337.80,158.99 L338.05,159.01 L338.30,159.12 L338.55,159.33 L338.80,159.67 L339.05,160.00 L339.30,160.31 L339.55,160.76 L339.80,161.29 L340.05,161.77 L340.30,162.23 L340.55,162.23" fill="none" stroke="#2399f0" stroke-width="1.4" stroke-linejoin="round"/><path d="M26.2,2 L341.7,2 L341.7,234.0 L26.2,234.0 Z" fill="none" stroke="#000" stroke-width="2"/><line x1="26.20" y1="234.0" x2="26.20" y2="238.2" stroke="#000" stroke-width="1.6"/><text x="26.20" y="252.6" text-anchor="middle" class="t">10</text><line x1="71.27" y1="234.0" x2="71.27" y2="238.2" stroke="#000" stroke-width="1.6"/><text x="71.27" y="252.6" text-anchor="middle" class="t">20</text><line x1="116.34" y1="234.0" x2="116.34" y2="238.2" stroke="#000" stroke-width="1.6"/><text x="116.34" y="252.6" text-anchor="middle" class="t">30</text><line x1="161.41" y1="234.0" x2="161.41" y2="238.2" stroke="#000" stroke-width="1.6"/><text x="161.41" y="252.6" text-anchor="middle" class="t">40</text><line x1="206.49" y1="234.0" x2="206.49" y2="238.2" stroke="#000" stroke-width="1.6"/><text x="206.49" y="252.6" text-anchor="middle" class="t">50</text><line x1="251.56" y1="234.0" x2="251.56" y2="238.2" stroke="#000" stroke-width="1.6"/><text x="251.56" y="252.6" text-anchor="middle" class="t">60</text><line x1="296.63" y1="234.0" x2="296.63" y2="238.2" stroke="#000" stroke-width="1.6"/><text x="296.63" y="252.6" text-anchor="middle" class="t">70</text><line x1="341.70" y1="234.0" x2="341.70" y2="238.2" stroke="#000" stroke-width="1.6"/><text x="341.70" y="252.6" text-anchor="middle" class="t">80</text><line x1="48.74" y1="234.0" x2="48.74" y2="231.6" stroke="#000" stroke-width="1.4"/><line x1="93.81" y1="234.0" x2="93.81" y2="231.6" stroke="#000" stroke-width="1.4"/><line x1="138.88" y1="234.0" x2="138.88" y2="231.6" stroke="#000" stroke-width="1.4"/><line x1="183.95" y1="234.0" x2="183.95" y2="231.6" stroke="#000" stroke-width="1.4"/><line x1="229.02" y1="234.0" x2="229.02" y2="231.6" stroke="#000" stroke-width="1.4"/><line x1="274.09" y1="234.0" x2="274.09" y2="231.6" stroke="#000" stroke-width="1.4"/><line x1="319.16" y1="234.0" x2="319.16" y2="231.6" stroke="#000" stroke-width="1.4"/><path d="M112.70,5.20 L115.35,8.40 L112.70,11.60 L110.05,8.40 Z" fill="#ff0a0a"/><path d="M134.20,52.80 L136.85,56.00 L134.20,59.20 L131.55,56.00 Z" fill="#ff0a0a"/><path d="M198.40,38.10 L201.05,41.30 L198.40,44.50 L195.75,41.30 Z" fill="#ff0a0a"/><path d="M237.70,43.50 L240.35,46.70 L237.70,49.90 L235.05,46.70 Z" fill="#ff0a0a"/><path d="M296.50,63.80 L299.15,67.00 L296.50,70.20 L293.85,67.00 Z" fill="#ff0a0a"/><path d="M329.10,61.30 L331.75,64.50 L329.10,67.70 L326.45,64.50 Z" fill="#ff0a0a"/><path d="M337.20,60.80 L339.85,64.00 L337.20,67.20 L334.55,64.00 Z" fill="#ff0a0a"/><path d="M109.80,76.10 L112.45,79.30 L109.80,82.50 L107.15,79.30 Z" fill="#ff0a0a"/><path d="M130.90,134.10 L133.55,137.30 L130.90,140.50 L128.25,137.30 Z" fill="#ff0a0a"/><path d="M195.60,121.00 L198.25,124.20 L195.60,127.40 L192.95,124.20 Z" fill="#ff0a0a"/><path d="M235.30,128.60 L237.95,131.80 L235.30,135.00 L232.65,131.80 Z" fill="#ff0a0a"/><path d="M294.30,150.80 L296.95,154.00 L294.30,157.20 L291.65,154.00 Z" fill="#ff0a0a"/><path d="M326.10,145.90 L328.75,149.10 L326.10,152.30 L323.45,149.10 Z" fill="#ff0a0a"/><path d="M337.60,147.20 L340.25,150.40 L337.60,153.60 L334.95,150.40 Z" fill="#ff0a0a"/><path d="M184.80,88.70 L187.45,91.90 L184.80,95.10 L182.15,91.90 Z" fill="#ff0a0a"/><path d="M71.20,59.77 C70.55,57.99 67.95,57.82 67.95,60.26 C67.95,62.05 70.23,63.19 71.20,64.65 C72.17,63.19 74.45,62.05 74.45,60.26 C74.45,57.82 71.85,57.99 71.20,59.77 Z" fill="#14d08a"/><path d="M155.10,68.78 C154.45,66.99 151.85,66.83 151.85,69.26 C151.85,71.05 154.12,72.19 155.10,73.65 C156.07,72.19 158.35,71.05 158.35,69.26 C158.35,66.83 155.75,66.99 155.10,68.78 Z" fill="#14d08a"/><path d="M185.00,110.67 C184.35,108.89 181.75,108.72 181.75,111.16 C181.75,112.95 184.03,114.09 185.00,115.55 C185.97,114.09 188.25,112.95 188.25,111.16 C188.25,108.72 185.65,108.89 185.00,110.67 Z" fill="#14d08a"/><line x1="192.6" y1="91.8" x2="219.9" y2="91.8" stroke="#ff0a0a" stroke-width="1.6"/><line x1="192.6" y1="111.8" x2="219.9" y2="111.8" stroke="#14d08a" stroke-width="1.6"/><text x="225.8" y="95.1" class="lg">CeO<tspan font-size="8.5" dy="3">2</tspan><tspan dy="-3" x="261.3">PDF#89-8436</tspan></text><text x="224.6" y="114.4" class="lg">Co<tspan font-size="8.5" dy="3">3</tspan><tspan dy="-3">O</tspan><tspan font-size="8.5" dy="3">4</tspan><tspan dy="-3" x="262.4">PDF#43-1003</tspan></text><text x="30.0" y="63.1" class="lab">ii</text><text x="29.9" y="146.8" class="lab">i</text><text x="183.8" y="272.5" text-anchor="middle" class="ax">2θ/degree</text><text transform="translate(15.3,117.8) rotate(-90)" text-anchor="middle" class="ax" style="font-size:19.5px">Intensity/a.u.</text></svg>
</body></html>
